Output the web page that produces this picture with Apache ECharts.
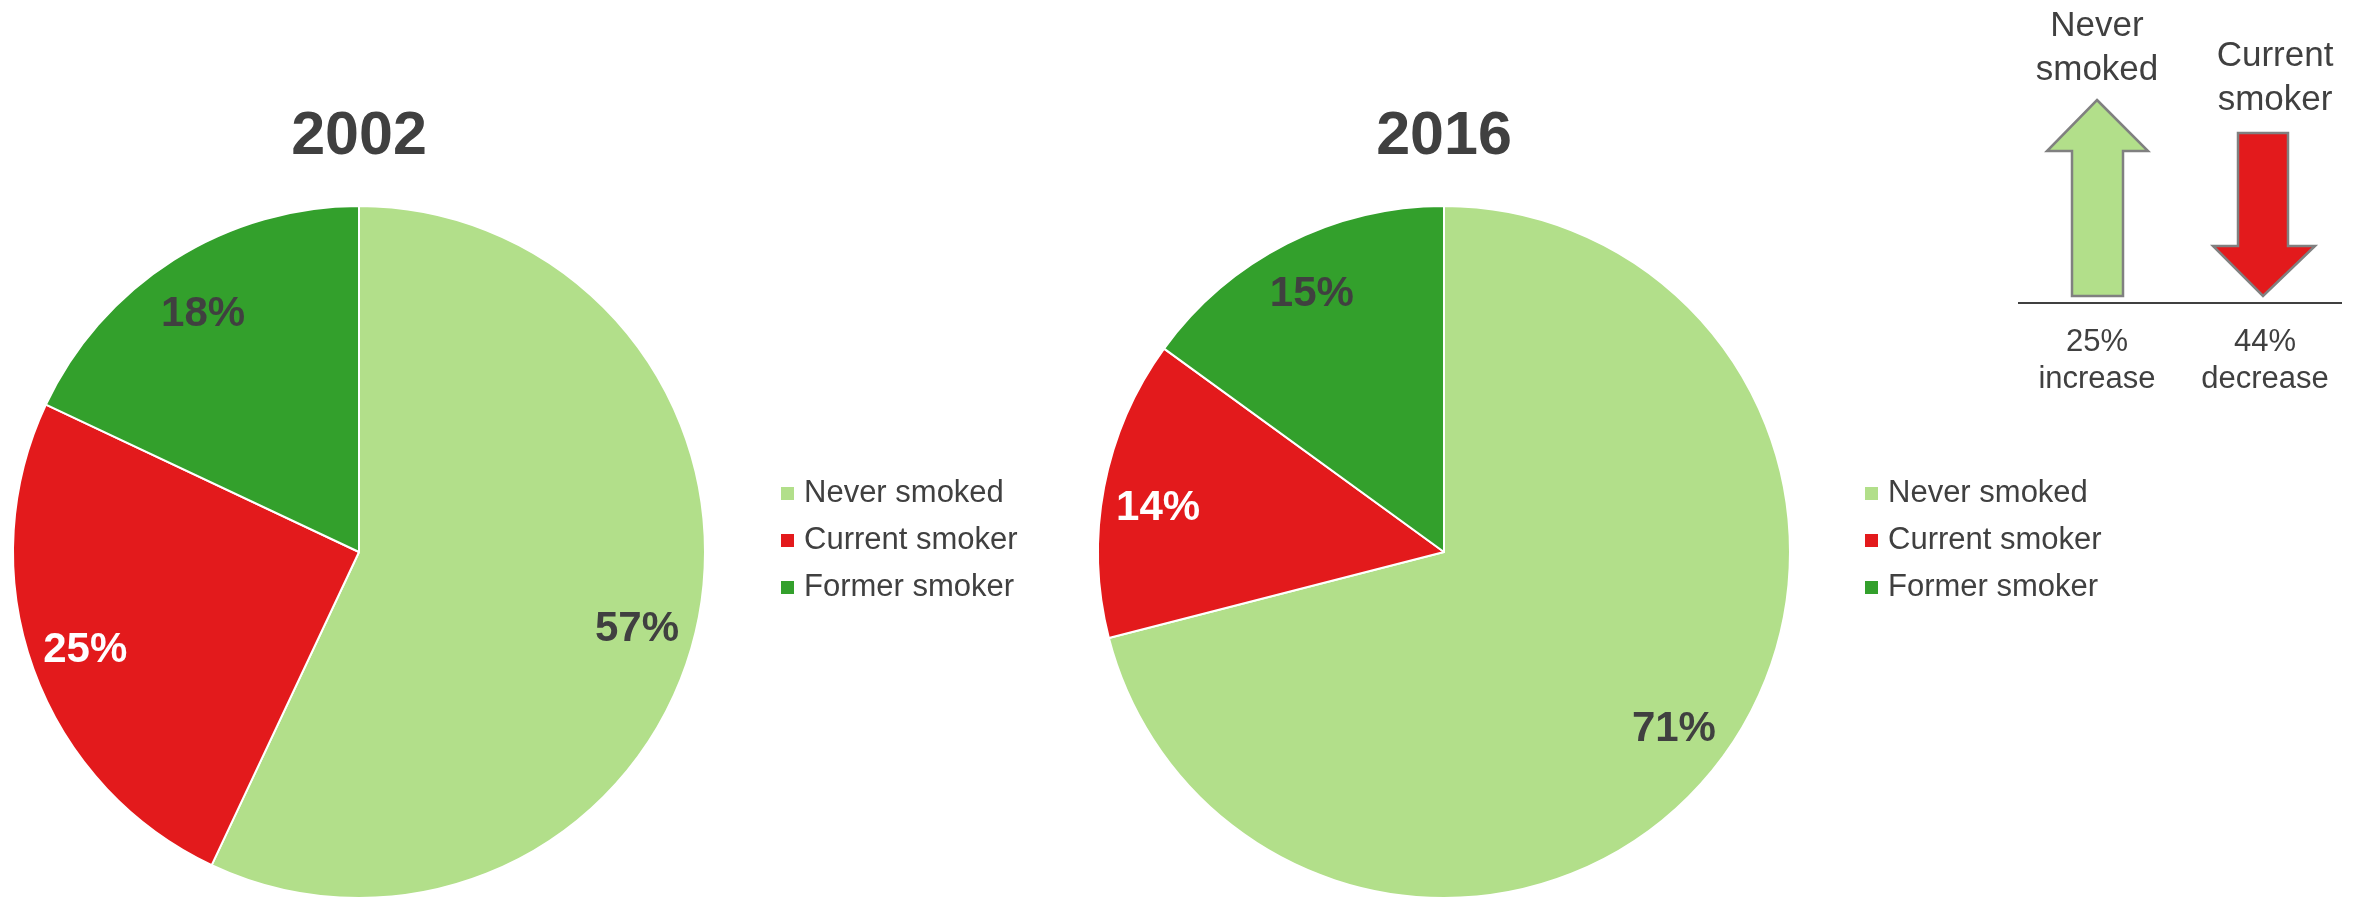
<!DOCTYPE html>
<html>
<head>
<meta charset="utf-8">
<script src="https://cdn.jsdelivr.net/npm/echarts@6/dist/echarts.min.js"></script>
<style>
  html, body { margin: 0; padding: 0; background: #ffffff; }
  #chart { width: 2362px; height: 897px; }
</style>
</head>
<body>
<div id="chart"></div>
<script>
// Smoking status shares (%), by survey year
const categories = ['Never smoked', 'Current smoker', 'Former smoker'];
const years = ['2002', '2016'];
const share2002 = [57, 25, 18];
const share2016 = [71, 14, 15];

// Change between the two years, shown beside the arrows
const changeHeads = ['Never\nsmoked', 'Current\nsmoker'];
const changeTexts = ['25%\nincrease', '44%\ndecrease'];

const FONT = '"Liberation Sans", Arial, Helvetica, sans-serif';
const TEXT = '#404040';
const colors = ['#b2df8a', '#e31a1c', '#33a02c'];
const labelColors = [TEXT, '#ffffff', TEXT];

const R = 346;
const CY = 552;
const pies = [
  // the big "Never smoked" label of 2002 sits a little lower, toward the slice body
  { year: years[0], values: share2002, cx: 359, legendLeft: 779, labelOffsets: [[-6, 14], [0, 0], [0, 8]] },
  { year: years[1], values: share2016, cx: 1444, legendLeft: 1863, labelOffsets: [[0, -1], [0, 11], [0, 2]] }
];

function items(values, labelOffsets) {
  return categories.map((name, i) => ({
    name: name,
    value: values[i],
    itemStyle: { color: labelOffsets ? 'rgba(0,0,0,0)' : colors[i] },
    label: labelOffsets ? { color: labelColors[i], offset: labelOffsets[i] } : undefined
  }));
}

const series = [];
const titles = [];
const legends = [];

pies.forEach((p) => {
  // filled pie
  series.push({
    type: 'pie',
    center: [p.cx, CY],
    radius: [0, R],
    startAngle: 90,
    clockwise: true,
    silent: true,
    animation: false,
    itemStyle: { borderColor: '#ffffff', borderWidth: 2 },
    label: { show: false },
    labelLine: { show: false },
    data: items(p.values, null)
  });
  // transparent ring carrying the value labels near the rim
  series.push({
    type: 'pie',
    center: [p.cx, CY],
    radius: [230, R],
    startAngle: 90,
    clockwise: true,
    silent: true,
    animation: false,
    itemStyle: { borderWidth: 0 },
    label: {
      show: true,
      position: 'inside',
      formatter: '{c}%',
      fontFamily: FONT,
      fontSize: 42,
      fontWeight: 'bold'
    },
    labelLine: { show: false },
    emphasis: { disabled: true },
    data: items(p.values, p.labelOffsets)
  });
  titles.push({
    text: p.year,
    left: p.cx,
    top: 107,
    textAlign: 'center',
    padding: 0,
    textStyle: { fontFamily: FONT, fontSize: 61, fontWeight: 'bold', color: TEXT, lineHeight: 61 }
  });
  legends.push({
    orient: 'vertical',
    left: p.legendLeft,
    top: 478,
    padding: 0,
    icon: 'rect',
    itemWidth: 15,
    itemHeight: 15,
    itemGap: 16,
    selectedMode: false,
    data: categories.map((c, i) => ({ name: c, itemStyle: { color: colors[i] } })),
    textStyle: { fontFamily: FONT, fontSize: 31, color: TEXT, lineHeight: 31, padding: [0, 0, 0, 4] }
  });
});

// Arrow annotation on the right: never smoked up, current smoker down
const graphic = [
  {
    type: 'polygon',
    shape: { points: [[2097, 100], [2148, 151], [2123, 151], [2123, 296], [2072, 296], [2072, 151], [2047, 151]] },
    style: { fill: colors[0], stroke: '#808080', lineWidth: 2.5 }
  },
  {
    type: 'polygon',
    shape: { points: [[2238, 133], [2288, 133], [2288, 246], [2315, 246], [2263, 296], [2213, 246], [2238, 246]] },
    style: { fill: colors[1], stroke: '#808080', lineWidth: 2.5 }
  },
  {
    type: 'line',
    shape: { x1: 2018, y1: 303, x2: 2342, y2: 303 },
    style: { stroke: TEXT, lineWidth: 2 }
  },
  {
    type: 'text', x: 2097, y: 4,
    style: { text: changeHeads[0], font: '35px ' + FONT, fill: TEXT, align: 'center', verticalAlign: 'top', lineHeight: 44 }
  },
  {
    type: 'text', x: 2275, y: 34,
    style: { text: changeHeads[1], font: '35px ' + FONT, fill: TEXT, align: 'center', verticalAlign: 'top', lineHeight: 44 }
  },
  {
    type: 'text', x: 2097, y: 324,
    style: { text: changeTexts[0], font: '31px ' + FONT, fill: TEXT, align: 'center', verticalAlign: 'top', lineHeight: 37 }
  },
  {
    type: 'text', x: 2265, y: 324,
    style: { text: changeTexts[1], font: '31px ' + FONT, fill: TEXT, align: 'center', verticalAlign: 'top', lineHeight: 37 }
  }
];

const chart = echarts.init(document.getElementById('chart'), null, { renderer: 'canvas' });
chart.setOption({
  backgroundColor: '#ffffff',
  animation: false,
  textStyle: { fontFamily: FONT },
  title: titles,
  legend: legends,
  series: series,
  graphic: graphic
});
</script>
</body>
</html>
